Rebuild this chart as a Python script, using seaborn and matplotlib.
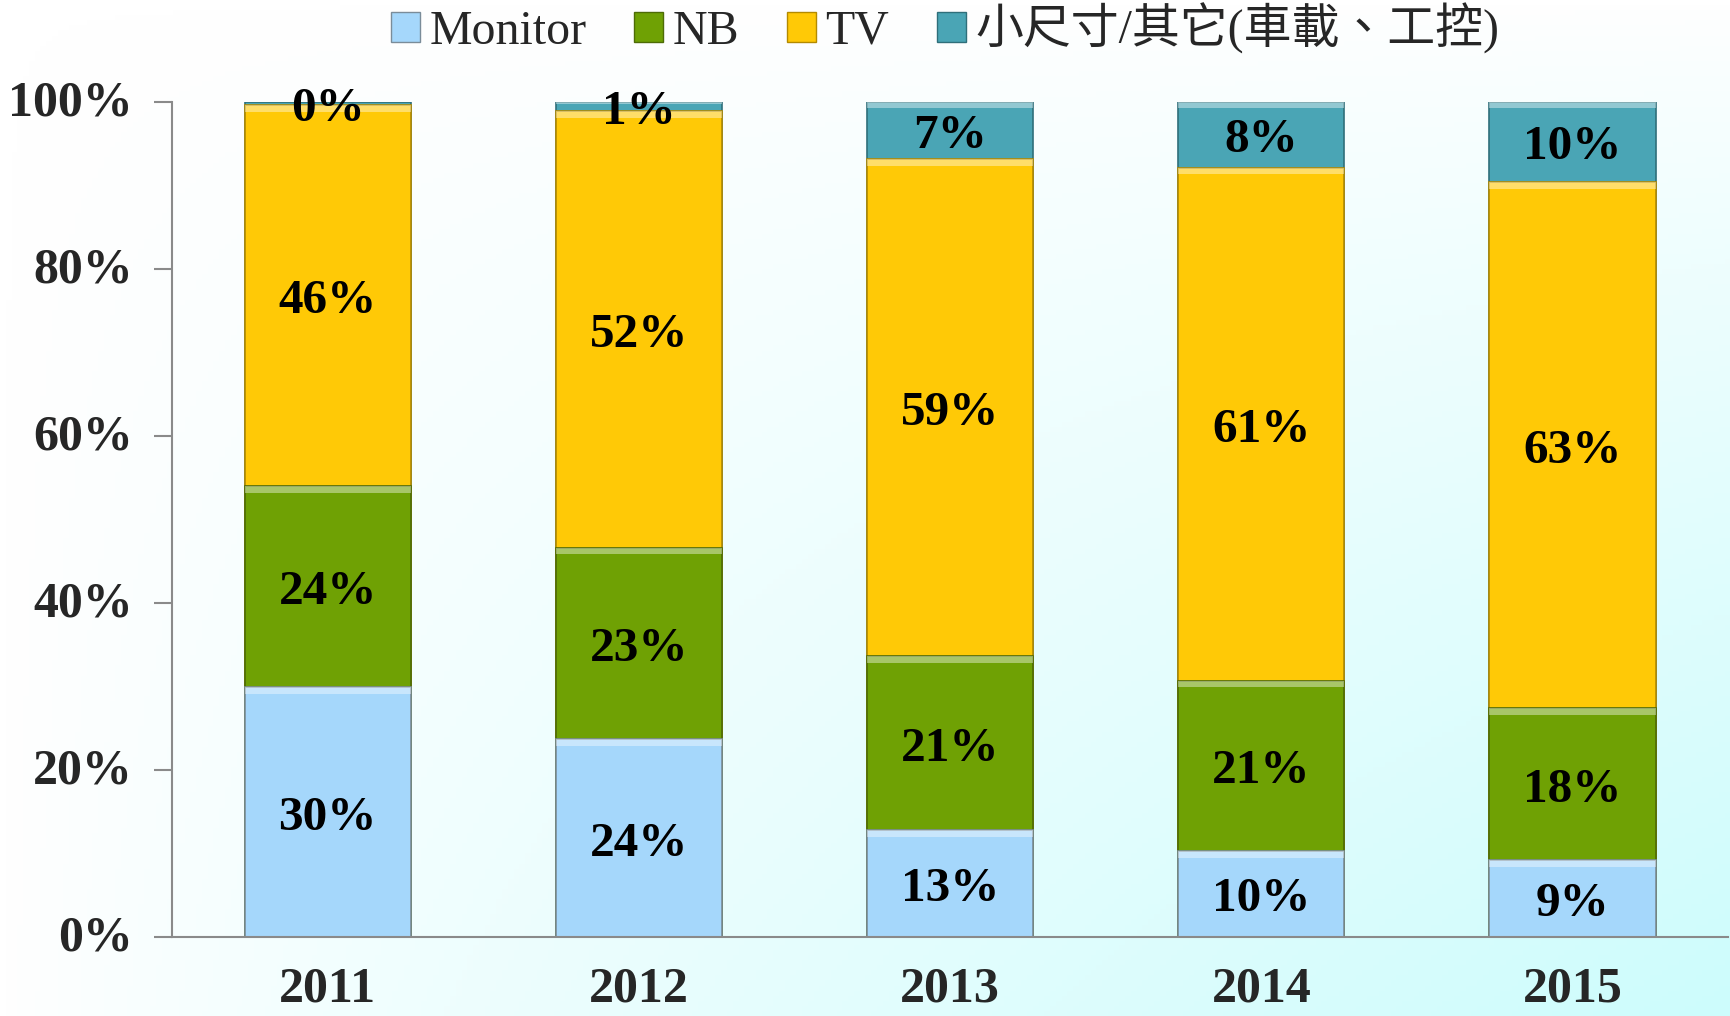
import numpy as np
import pandas as pd
import matplotlib
matplotlib.use("Agg")
import matplotlib.pyplot as plt
import matplotlib.transforms as mtransforms
import seaborn as sns
from matplotlib.patches import Patch, Rectangle
from matplotlib.colors import LinearSegmentedColormap

years = ["2011", "2012", "2013", "2014", "2015"]
monitor = [29.9, 23.7, 12.8, 10.3, 9.2]
nb = [24.1, 22.9, 20.8, 20.4, 18.2]
tv = [45.6, 52.3, 59.5, 61.4, 63.0]
small = [0.4, 1.1, 6.9, 7.9, 9.6]
monitor_lbl = [30, 24, 13, 10, 9]
nb_lbl = [24, 23, 21, 21, 18]
tv_lbl = [46, 52, 59, 61, 63]
small_lbl = [0, 1, 7, 8, 10]
series_names = ["Monitor", "NB", "TV", "小尺寸/其它(車載、工控)"]
colors = ["#a5d7fb", "#6fa104", "#ffc906", "#4aa5b5"]
edge_colors = ["#7a8c99", "#4d6b06", "#b38a00", "#2f6f7a"]
ytick_labels = ["0%", "20%", "40%", "60%", "80%", "100%"]

sns.set_theme(style="white")
serif = ["Liberation Serif", "Noto Sans CJK TC", "DejaVu Sans"]
plt.rcParams["font.family"] = serif

fig = plt.figure(figsize=(17.31, 10.16), dpi=100)

# background gradient
bg = fig.add_axes([0, 0, 1, 1], zorder=-10)
xx, yy = np.meshgrid(np.linspace(0, 1, 300), np.linspace(0, 1, 200))
t = (xx * yy) ** 0.8
cmap = LinearSegmentedColormap.from_list("bg", ["#ffffff", "#cdfcfc"])
bg.imshow(t, cmap=cmap, aspect="auto", extent=[0, 1, 0, 1], origin="upper", vmin=0, vmax=1)
bg.axis("off")

ax = fig.add_axes([0.0994, 0.0778, 0.8989, 0.8221])
ax.patch.set_alpha(0)

c1 = np.array(monitor)
c2 = c1 + np.array(nb)
c3 = c2 + np.array(tv)
c4 = c3 + np.array(small)
cums = [c1, c2, c3, c4]
bottoms = [np.zeros(5), c1, c2, c3]
labels = [monitor_lbl, nb_lbl, tv_lbl, small_lbl]

for i in [3, 2, 1, 0]:
    sns.barplot(x=years, y=cums[i] / 100.0, color=colors[i], width=0.534,
                edgecolor=edge_colors[i], linewidth=1.2, saturation=1, ax=ax, zorder=2 + (3 - i))

lbl_tf = mtransforms.offset_copy(ax.transData, fig=fig, x=0, y=-4, units="points")
for i in range(4):
    for j in range(5):
        seg_h = (cums[i][j] - bottoms[i][j]) / 100.0
        y0 = bottoms[i][j] / 100.0
        if seg_h > 0.01:
            hl = min(0.008, seg_h * 0.2)
            ax.add_patch(Rectangle((j - 0.267, y0 + seg_h - hl), 0.534, hl,
                                   facecolor="white", alpha=0.4, lw=0, zorder=7))
        ax.text(j, y0 + seg_h / 2, f"{labels[i][j]}%", ha="center", va="center",
                fontsize=35.5, fontweight="bold", family=serif, color="black",
                zorder=10, transform=lbl_tf)

ax.set_xlim(-0.5, 4.5)
ax.set_ylim(0, 1)
ax.set_yticks(np.linspace(0, 1, 6))
ax.set_yticklabels(ytick_labels, fontsize=36, fontweight="bold")
ax.set_xticks(range(5))
ax.set_xticklabels(years, fontsize=36, fontweight="bold")
ax.set_xticks(np.arange(-0.5, 5, 1), minor=True)
ax.tick_params(axis="x", which="major", length=0, pad=21)
ax.tick_params(axis="x", which="minor", length=16, width=1.5, color="#8a8a8a", direction="out")
ax.tick_params(axis="y", which="major", length=13, width=1.5, color="#8a8a8a", direction="out", pad=15, left=True)
shift = mtransforms.ScaledTranslation(0, 3 / 72, fig.dpi_scale_trans)
for lab in ax.get_yticklabels():
    lab.set_transform(lab.get_transform() + shift)
ax.set_xlabel("")
ax.set_ylabel("")
for s in ["top", "right"]:
    ax.spines[s].set_visible(False)
for s in ["left", "bottom"]:
    ax.spines[s].set_color("#8a8a8a")
    ax.spines[s].set_linewidth(1.5)
ax.spines["bottom"].set_zorder(20)

handles = [Patch(facecolor=colors[k], edgecolor=edge_colors[k], linewidth=1) for k in range(4)]
leg = fig.legend(handles, series_names, loc="center", bbox_to_anchor=(0.546, 0.972), ncol=4,
                 frameon=False, prop={"family": serif, "size": 34.5},
                 handlelength=0.6, handleheight=0.6, handletextpad=0.2, columnspacing=1.0)

fig.savefig("out.png", dpi=100)
